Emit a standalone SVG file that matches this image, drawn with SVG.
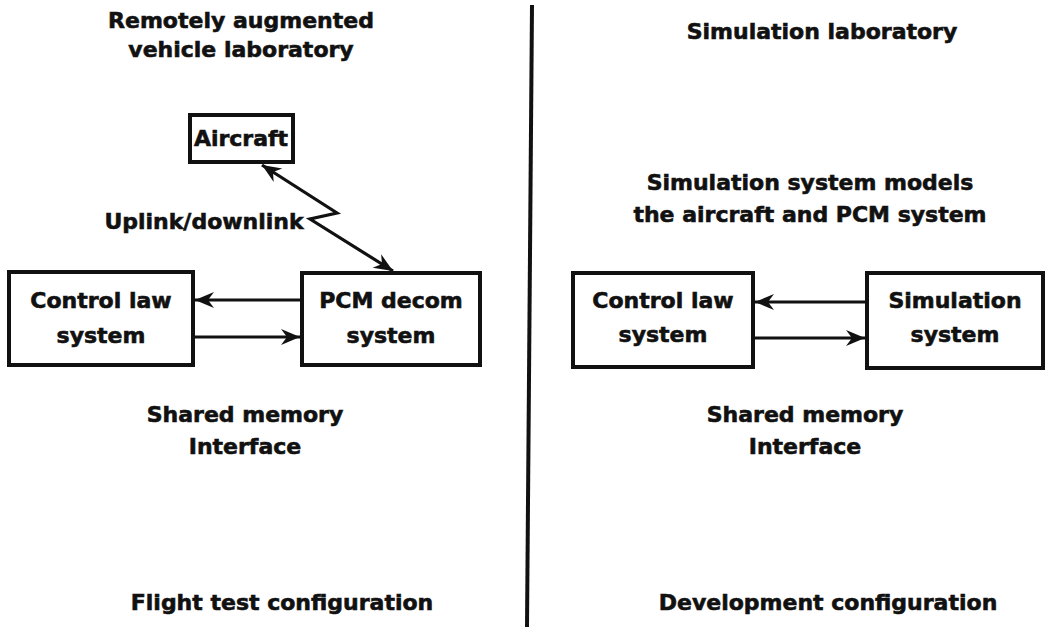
<svg xmlns="http://www.w3.org/2000/svg" width="1047" height="633" viewBox="0 0 1047 633">
<defs>
<style>
text{font-family:"DejaVu Sans","Liberation Sans",sans-serif;font-weight:bold;font-size:22px;fill:#111;stroke:#111;stroke-width:0.6;text-anchor:middle}
.box{fill:#fff;stroke:#111;stroke-width:4}
.ln{fill:none;stroke:#111;stroke-width:3.2}
</style>
<marker id="ah" markerUnits="userSpaceOnUse" markerWidth="22" markerHeight="18" viewBox="-20 -9 22 18" refX="0" refY="0" orient="auto-start-reverse">
<path d="M0,0 L-19,-8 L-13,0 L-19,8 Z" fill="#111"/>
</marker>
</defs>
<rect width="1047" height="633" fill="#fff"/>
<line x1="532" y1="5" x2="527" y2="627" stroke="#111" stroke-width="4"/>
<g id="labels">
<text x="241" y="28">Remotely augmented</text>
<text x="241" y="57">vehicle laboratory</text>
<text x="822" y="39">Simulation laboratory</text>
<text x="810" y="190">Simulation system models</text>
<text x="810" y="222">the aircraft and PCM system</text>
<text x="204" y="229">Uplink/downlink</text>
<text x="245" y="422">Shared memory</text>
<text x="245" y="454">Interface</text>
<text x="805" y="422">Shared memory</text>
<text x="805" y="454">Interface</text>
<text x="282" y="610">Flight test configuration</text>
<text x="828" y="610">Development configuration</text>
</g>
<g id="connectors">
<polyline class="ln" points="262,165 337,213 310,219 393,271" marker-start="url(#ah)" marker-end="url(#ah)"/>
<line class="ln" x1="302" y1="300" x2="195" y2="300" marker-end="url(#ah)"/>
<line class="ln" x1="193" y1="337" x2="300" y2="337" marker-end="url(#ah)"/>
<line class="ln" x1="867" y1="302" x2="755" y2="302" marker-end="url(#ah)"/>
<line class="ln" x1="753" y1="338" x2="865" y2="338" marker-end="url(#ah)"/>
</g>
<g id="aircraft">
<rect class="box" x="190" y="115" width="103" height="47"/>
<text x="241" y="146">Aircraft</text>
</g>
<g id="control-law-left">
<rect class="box" x="9" y="272" width="184" height="93"/>
<text x="101" y="308">Control law</text>
<text x="101" y="343">system</text>
</g>
<g id="pcm-decom">
<rect class="box" x="302" y="273" width="178" height="92"/>
<text x="391" y="308">PCM decom</text>
<text x="391" y="343">system</text>
</g>
<g id="control-law-right">
<rect class="box" x="573" y="273" width="180" height="94"/>
<text x="663" y="308">Control law</text>
<text x="663" y="342">system</text>
</g>
<g id="simulation-system">
<rect class="box" x="867" y="273" width="176" height="95"/>
<text x="955" y="308">Simulation</text>
<text x="955" y="342">system</text>
</g>
</svg>
